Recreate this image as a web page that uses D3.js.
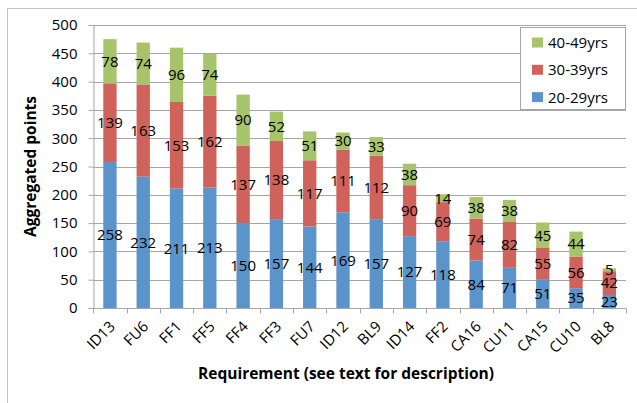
<!DOCTYPE html>
<html>
<head>
<meta charset="utf-8">
<script src="https://cdn.jsdelivr.net/npm/d3@7"></script>
<style>
  html, body { margin: 0; padding: 0; background: #fff; }
  svg { display: block; }
  text { font-family: "Open Sans", "DejaVu Sans", sans-serif; }
</style>
</head>
<body>
<svg id="chart" width="637" height="403"></svg>
<script>
const categories = ["ID13","FU6","FF1","FF5","FF4","FF3","FU7","ID12","BL9","ID14","FF2","CA16","CU11","CA15","CU10","BL8"];
const series20 = [258,232,211,213,150,157,144,169,157,127,118,84,71,51,35,23];
const series30 = [139,163,153,162,137,138,117,111,112,90,69,74,82,55,56,42];
const series40 = [78,74,96,74,90,52,51,30,33,38,14,38,38,45,44,5];
const seriesNames = ["20-29yrs","30-39yrs","40-49yrs"];
const seriesColors = ["#5b94ca","#cf625b","#a7c46a"];
const yTicks = [0,50,100,150,200,250,300,350,400,450,500];

const svg = d3.select("#chart");
const W = 637, H = 403;
const m = {left: 93.3, right: 11, top: 25, bottom: 95};
const x0 = m.left, x1 = W - m.right, y0 = H - m.bottom, y1 = m.top;

// outer frame
svg.append("rect").attr("x", 7.5).attr("y", 8.5).attr("width", 700).attr("height", 500)
  .attr("fill", "none").attr("stroke", "#c4c4c4").attr("stroke-width", 1);

const x = d3.scaleBand().domain(categories).range([x0, x1]).paddingInner(0.6).paddingOuter(0.3);
const y = d3.scaleLinear().domain([0, 500]).range([y0, y1]);

// gridlines
svg.append("g").selectAll("line").data(yTicks.filter(d => d > 0)).join("line")
  .attr("x1", x0).attr("x2", x1)
  .attr("y1", d => Math.round(y(d)) + 0.5).attr("y2", d => Math.round(y(d)) + 0.5)
  .attr("stroke", "#a6a6a6").attr("stroke-width", 1);

// y axis
const yAxis = svg.append("g").attr("transform", `translate(${Math.round(x0)+0.5},0)`)
  .call(d3.axisLeft(y).tickValues(yTicks).tickSize(5).tickPadding(11));
yAxis.select(".domain").attr("stroke", "#a6a6a6");
yAxis.selectAll(".tick line").attr("stroke", "#a6a6a6");
yAxis.selectAll(".tick text").attr("font-size", 15).attr("fill", "#000")
  .attr("font-family", "'Open Sans', sans-serif");

// stacked data
const rows = categories.map((c, i) => ({cat: c, s0: series20[i], s1: series30[i], s2: series40[i]}));
const stack = d3.stack().keys(["s0","s1","s2"])(rows);

const g = svg.append("g");
stack.forEach((layer, li) => {
  g.append("g").selectAll("rect").data(layer).join("rect")
    .attr("x", d => x(d.data.cat))
    .attr("width", x.bandwidth())
    .attr("y", d => y(d[1]))
    .attr("height", d => y(d[0]) - y(d[1]))
    .attr("fill", seriesColors[li]);
});

// x axis
const xAxisG = svg.append("g").attr("transform", `translate(0,${Math.round(y0)+0.5})`);
xAxisG.append("line").attr("x1", x0).attr("x2", x1).attr("stroke", "#a6a6a6");
const step = x.step();
const bounds = d3.range(categories.length + 1).map(i => x0 + i * step);
xAxisG.selectAll("line.tk").data(bounds).join("line").attr("class","tk")
  .attr("x1", d => Math.round(d) + 0.5).attr("x2", d => Math.round(d) + 0.5)
  .attr("y1", 0).attr("y2", 5).attr("stroke", "#a6a6a6");
xAxisG.selectAll("text").data(categories).join("text")
  .attr("transform", d => `translate(${x(d) + x.bandwidth()/2 + 6},${19}) rotate(-45)`)
  .attr("text-anchor", "end")
  .attr("font-size", 15).attr("fill", "#000")
  .text(d => d);

// data labels
stack.forEach((layer, li) => {
  g.append("g").selectAll("text").data(layer).join("text")
    .attr("x", d => x(d.data.cat) + x.bandwidth()/2)
    .attr("y", d => y((d[0] + d[1]) / 2))
    .attr("dy", "0.36em")
    .attr("text-anchor", "middle")
    .attr("font-size", 15).attr("fill", "#000")
    .text(d => d[1] - d[0]);
});

// axis titles
svg.append("text")
  .attr("transform", `translate(36,${(y0 + y1)/2}) rotate(-90)`)
  .attr("text-anchor", "middle").attr("font-weight", "bold").attr("font-size", 15.5)
  .attr("fill", "#000").text("Aggregated points");
svg.append("text")
  .attr("x", 346).attr("y", 379)
  .attr("text-anchor", "middle").attr("font-weight", "bold").attr("font-size", 15.5)
  .attr("fill", "#000").text("Requirement (see text for description)");

// legend
const leg = svg.append("g");
leg.append("rect").attr("x", 520.5).attr("y", 27.5).attr("width", 105).attr("height", 82)
  .attr("fill", "#fff").attr("stroke", "#a6a6a6");
const legOrder = [2, 1, 0];
legOrder.forEach((si, k) => {
  const cy = 42.5 + k * 27.3;
  leg.append("rect").attr("x", 532).attr("y", cy - 5).attr("width", 11).attr("height", 10)
    .attr("fill", seriesColors[si]);
  leg.append("text").attr("x", 548).attr("y", cy).attr("dy", "0.36em")
    .attr("font-size", 15).attr("fill", "#000").text(seriesNames[si]);
});
</script>
</body>
</html>
